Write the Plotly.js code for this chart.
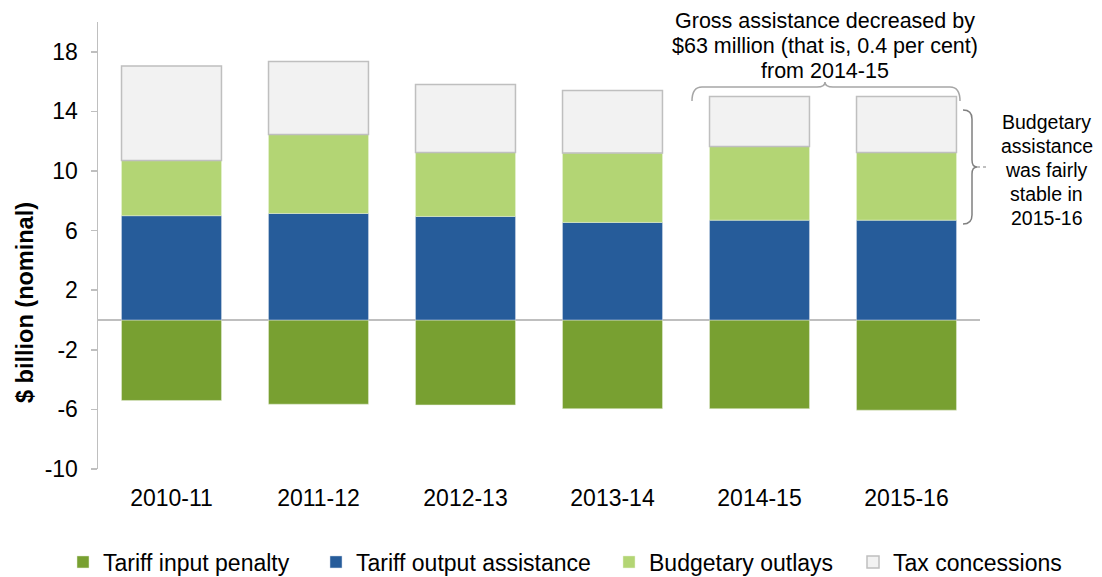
<!DOCTYPE html>
<html>
<head>
<meta charset="utf-8">
<script src="https://cdn.plot.ly/plotly-3.0.1.min.js"></script>
<style>html,body{margin:0;padding:0;background:#fff;}#chart{width:1102px;height:577px;}</style>
</head>
<body>
<div id="chart"></div>
<script>
// Data (billion $, nominal)
const years = ["2010-11", "2011-12", "2012-13", "2013-14", "2014-15", "2015-16"];
const tariffInputPenalty = [-5.4, -5.65, -5.7, -5.95, -5.95, -6.05];
const tariffOutputAssistance = [7.0, 7.15, 6.95, 6.55, 6.7, 6.7];
const budgetaryOutlays = [3.7, 5.3, 4.3, 4.65, 4.95, 4.55];
const taxConcessions = [6.35, 4.9, 4.55, 4.2, 3.35, 3.75];
const yTicks = [-10, -6, -2, 2, 6, 10, 14, 18];
const topNote = ["Gross assistance decreased by", "$63 million (that is, 0.4 per cent)", "from 2014-15"];
const sideNote = ["Budgetary", "assistance", "was fairly", "stable in", "2015-16"];

const W = 1102, H = 577;
const M = {l: 98, r: 122, t: 22, b: 108, autoexpand: false};
const pw = W - M.l - M.r, ph = H - M.t - M.b;
const px = x => +((x - M.l) / pw).toFixed(5);
const py = y => +((H - M.b - y) / ph).toFixed(5);
const P = (x, y) => px(x) + "," + py(y);

const font = "Arial, 'Liberation Sans', sans-serif";

const traces = [
  {name: "Tariff input penalty", x: years, y: tariffInputPenalty, type: "bar", legend: "legend",
   marker: {color: "#78A031", line: {color: "#E6EFD8", width: 0.5}}},
  {name: "Tariff output assistance", x: years, y: tariffOutputAssistance, type: "bar", legend: "legend2",
   marker: {color: "#265C9A", line: {color: "#D0DAE8", width: 0.5}}},
  {name: "Budgetary outlays", x: years, y: budgetaryOutlays, type: "bar", legend: "legend3",
   marker: {color: "#B3D574", line: {color: "#E8F2D6", width: 0.5}}},
  {name: "Tax concessions", x: years, y: taxConcessions, type: "bar", legend: "legend4",
   marker: {color: "#F2F2F2", line: {color: "#BFBFBF", width: 1.5}}}
];

const topBrace = "M " + P(692, 101) + " Q " + P(692, 87) + " " + P(702, 87) +
  " L " + P(817, 87) + " Q " + P(825, 87) + " " + P(825, 82) +
  " Q " + P(825, 87) + " " + P(833, 87) + " L " + P(950, 87) +
  " Q " + P(960, 87) + " " + P(960, 101);
const rightBrace = "M " + P(963, 110) + " Q " + P(972, 110) + " " + P(972, 119) +
  " L " + P(972, 160) + " Q " + P(972, 167) + " " + P(977, 167) +
  " Q " + P(972, 167) + " " + P(972, 174) + " L " + P(972, 215) +
  " Q " + P(972, 224) + " " + P(963, 224);

function legendAt(xPix) {
  return {orientation: "h", x: px(xPix), xanchor: "left", y: py(562), yanchor: "middle",
          font: {family: font, size: 23, color: "#000"}, itemwidth: 30,
          bgcolor: "rgba(0,0,0,0)", borderwidth: 0};
}

const annotations = [];
const topY = [21, 46, 71];
topNote.forEach((t, i) => annotations.push({
  xref: "paper", yref: "paper", x: px(825), y: py(topY[i]), xanchor: "center", yanchor: "middle",
  showarrow: false, font: {size: 21.5, family: font, color: "#000"}, text: t}));
const sideY = [122, 146, 170, 194, 218];
sideNote.forEach((t, i) => annotations.push({
  xref: "paper", yref: "paper", x: px(1047), y: py(sideY[i]), xanchor: "center", yanchor: "middle",
  showarrow: false, font: {size: 19.5, family: font, color: "#000"}, text: t}));
annotations.push({
  xref: "paper", yref: "paper", x: px(25), y: py(302), xanchor: "center", yanchor: "middle",
  showarrow: false, textangle: -90, font: {size: 23.5, family: font, color: "#000"},
  text: "<b>$ billion (nominal)</b>"});

const layout = {
  width: W, height: H,
  margin: M,
  paper_bgcolor: "#fff", plot_bgcolor: "#fff",
  barmode: "relative",
  bargap: 0.32,
  font: {family: font, color: "#000", size: 20},
  showlegend: true,
  legend: legendAt(63),
  legend2: legendAt(316),
  legend3: legendAt(609),
  legend4: legendAt(853),
  xaxis: {type: "category", showline: false, showgrid: false, zeroline: false, ticks: "",
          tickfont: {size: 23, family: font}, automargin: false, ticklabelstandoff: 13},
  yaxis: {range: [-10, 20], tickvals: yTicks, ticktext: yTicks.map(String),
          showgrid: false, showline: true, linecolor: "#BFBFBF", linewidth: 1.5,
          ticks: "outside", ticklen: 6, tickcolor: "#BFBFBF", tickwidth: 1.5,
          zeroline: true, zerolinecolor: "#BFBFBF", zerolinewidth: 1.5,
          tickfont: {size: 23, family: font}, automargin: false, ticklabelstandoff: 8},
  shapes: [
    {type: "path", xref: "paper", yref: "paper", path: topBrace, line: {color: "#A6A6A6", width: 1.5}},
    {type: "path", xref: "paper", yref: "paper", path: rightBrace, line: {color: "#808080", width: 1.5}},
    {type: "line", xref: "paper", yref: "paper", x0: px(977), y0: py(167), x1: px(986), y1: py(167),
     line: {color: "#808080", width: 1.2, dash: "dot"}}
  ],
  annotations: annotations
};

Plotly.newPlot("chart", traces, layout, {displayModeBar: false, staticPlot: true});
</script>
</body>
</html>
